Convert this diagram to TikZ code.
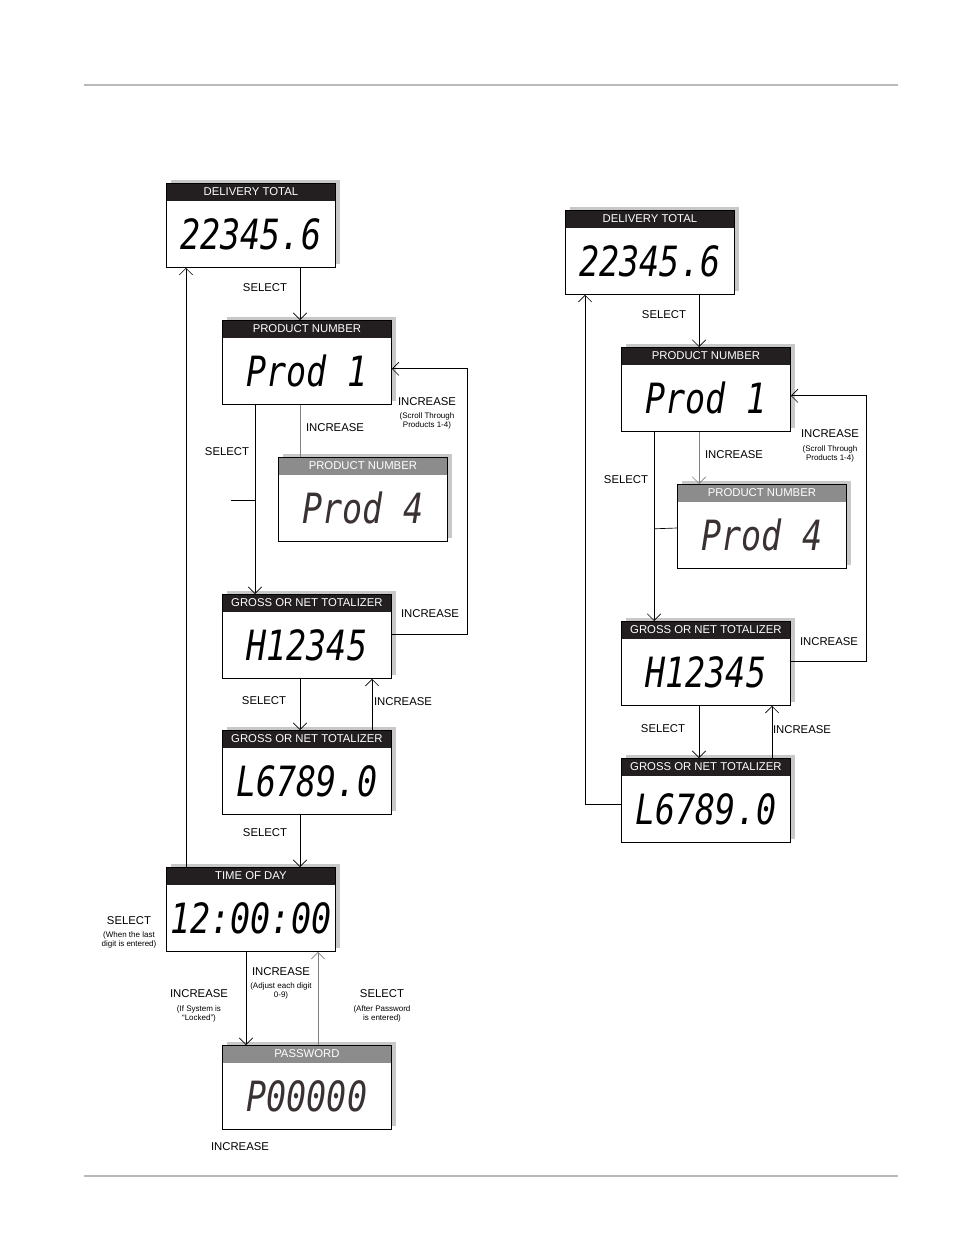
\documentclass[tikz,border=0pt]{standalone}
\usepackage{fontspec}
\setmainfont{Liberation Sans}
\newfontfamily\dispfont{DejaVu Sans Mono}
\usetikzlibrary{calc,arrows.meta}
\definecolor{hdrblack}{HTML}{231F20}
\definecolor{hdrgray}{HTML}{8C8C8C}
\definecolor{shadowc}{HTML}{C8C8C8}
\definecolor{valgray}{HTML}{3A3232}
\tikzset{
  boxframe/.style={draw=black,line width=0.6pt,fill=white,minimum width=126.75pt,minimum height=63pt,anchor=north west,inner sep=0pt},
  hdr/.style={text=white,font=\fontsize{8.5}{9}\selectfont,inner sep=0pt},
  lbl/.style={font=\fontsize{8.5}{9}\selectfont,inner sep=0pt},
  sml/.style={font=\fontsize{6}{7}\selectfont,inner sep=0pt,align=center},
  arr/.style={line width=0.5pt,-{Straight Barb[length=5pt,width=10pt,line width=0.5pt]}},
  ln/.style={line width=0.5pt},
  glin/.style={line width=0.5pt,draw=gray},
}
\newcommand\dbox[7]{%
  \fill[shadowc] (#2+5,#3-3) rectangle ++(169,84);
  \node[boxframe] (#1) at (#2,#3) {};
  \fill[#6] (#1.north west) rectangle ($(#1.north east)+(0,18)$);
  \node[hdr] (#1h) at ($(#1.north)+(0,9)$) {#4};
  \node[text=#7,inner sep=0pt] (#1v) at ($(#1.center)+(0,9)$) {\scalebox{1}[1.25]{\dispfont\itshape\fontsize{25}{26}\selectfont #5}};
  \draw[line width=0.6pt] (#1.north west) rectangle (#1.south east);
}
\begin{document}
\begin{tikzpicture}[x=0.75pt,y=-0.75pt]
\useasboundingbox (0,0) rectangle (954,1235);
\draw[shadowc!80!gray,line width=2.2pt] (84,85) -- (898,85);
\draw[shadowc!80!gray,line width=2.2pt] (84,1176) -- (898,1176);
% left column
\dbox{A}{166}{183}{DELIVERY TOTAL}{22345.6}{hdrblack}{black}
\dbox{B}{222}{320}{PRODUCT NUMBER}{Prod 1}{hdrblack}{black}
\dbox{C}{278}{457}{PRODUCT NUMBER}{Prod 4}{hdrgray}{valgray}
\dbox{D}{222}{594}{GROSS OR NET TOTALIZER}{H12345}{hdrblack}{black}
\dbox{E}{222}{730}{GROSS OR NET TOTALIZER}{L6789.0}{hdrblack}{black}
\dbox{F}{166}{867}{TIME OF DAY}{12:00:00}{hdrblack}{black}
\dbox{G}{222}{1045}{PASSWORD}{P00000}{hdrgray}{valgray}
% right column
\dbox{RA}{565}{210}{DELIVERY TOTAL}{22345.6}{hdrblack}{black}
\dbox{RB}{621}{347}{PRODUCT NUMBER}{Prod 1}{hdrblack}{black}
\dbox{RC}{677}{484}{PRODUCT NUMBER}{Prod 4}{hdrgray}{valgray}
\dbox{RD}{621}{621}{GROSS OR NET TOTALIZER}{H12345}{hdrblack}{black}
\dbox{RE}{621}{758}{GROSS OR NET TOTALIZER}{L6789.0}{hdrblack}{black}
% left connectors
\draw[arr] ($(A.south west)+(134,0)$) -- ($(B.north west)+(78,0)$);
\draw[glin] ($(B.south west)+(78,0)$) -- ($(C.north west)+(22,0)$);
\draw[arr] ($(B.south west)+(33,0)$) -- ($(D.north west)+(33,0)$);
\coordinate (stubL) at (231,500);
\draw[ln] (stubL) -- ++(24,0);
\draw[arr] ($(D.south east)+(0,-44)$) -- ++(76,0) |- ($(B.south east)+(0,-36)$);
\draw[arr] ($(D.south west)+(78,0)$) -- ($(E.north west)+(78,0)$);
\draw[arr] ($(E.north west)+(150,0)$) -- ($(D.south west)+(150,0)$);
\draw[arr] ($(E.south west)+(78,0)$) -- ($(F.north west)+(134,0)$);
\draw[arr] ($(F.north west)+(20,0)$) -- ($(A.south west)+(20,0)$);
\draw[arr] ($(F.south west)+(80,0)$) -- ($(G.north west)+(24,0)$);
\draw[arr,draw=gray] ($(G.north west)+(96,0)$) -- ($(F.south west)+(152,0)$);
% right connectors
\draw[arr] ($(RA.south west)+(134,0)$) -- ($(RB.north west)+(78,0)$);
\draw[arr,draw=gray] ($(RB.south west)+(78,0)$) -- ($(RC.north west)+(22,0)$);
\draw[arr] ($(RB.south west)+(33,0)$) -- ($(RD.north west)+(33,0)$);
\draw[ln] ($(RB.south west)+(33,97)$) -- ($(RC.north west)+(0,44)$);
\draw[arr] ($(RD.south east)+(0,-44)$) -- ++(76,0) |- ($(RB.south east)+(0,-36)$);
\draw[arr] ($(RD.south west)+(78,0)$) -- ($(RE.north west)+(78,0)$);
\draw[arr] ($(RE.north west)+(151,0)$) -- ($(RD.south west)+(151,0)$);
\draw[arr] ($(RE.south west)+(0,-38)$) -- ++(-36,0) -- ($(RA.south west)+(20,0)$);
% left labels
\node[lbl] (l1) at (265,288) {SELECT};
\node[lbl] (l2) at (335,428) {INCREASE};
\node[lbl] (l3) at (227,452) {SELECT};
\node[lbl] (l4) at (427,402) {INCREASE};
\node[sml] (l4s) at (427,421) {(Scroll Through\\Products 1-4)};
\node[lbl] (l5) at (430,614) {INCREASE};
\node[lbl] (l6) at (264,701) {SELECT};
\node[lbl] (l7) at (403,702) {INCREASE};
\node[lbl] (l8) at (265,833) {SELECT};
\node[lbl] (l9) at (129,921) {SELECT};
\node[sml] (l9s) at (129,940) {(When the last\\digit is entered)};
\node[lbl] (l10) at (281,972) {INCREASE};
\node[sml] (l10s) at (281,991) {(Adjust each digit\\0-9)};
\node[lbl] (l11) at (199,994) {INCREASE};
\node[sml] (l11s) at (199,1014) {(If System is\\``Locked'')};
\node[lbl] (l12) at (382,994) {SELECT};
\node[sml] (l12s) at (382,1014) {(After Password\\is entered)};
\node[lbl] (l13) at (240,1147) {INCREASE};
% right labels
\node[lbl] (r1) at (664,315) {SELECT};
\node[lbl] (r2) at (734,455) {INCREASE};
\node[lbl] (r3) at (626,480) {SELECT};
\node[lbl] (r4) at (830,434) {INCREASE};
\node[sml] (r4s) at (830,454) {(Scroll Through\\Products 1-4)};
\node[lbl] (r5) at (829,642) {INCREASE};
\node[lbl] (r6) at (663,729) {SELECT};
\node[lbl] (r7) at (802,730) {INCREASE};
\end{tikzpicture}
\end{document}
